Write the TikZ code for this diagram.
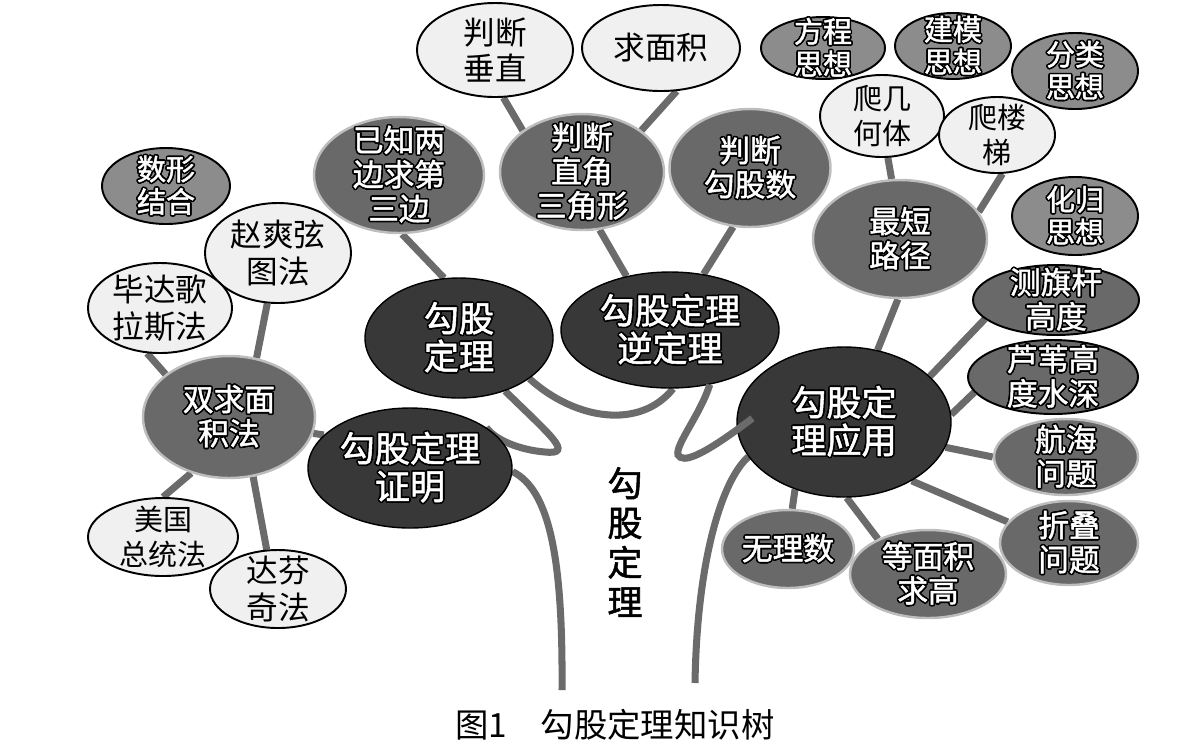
\documentclass[tikz,border=0pt]{standalone}
\usepackage{fontspec}
\setmainfont{Noto Sans CJK SC}
\newfontfamily\heavyfam[FakeBold=1.5]{Noto Sans CJK SC}
\usepackage{contour}
\contourlength{0.9pt}
\contournumber{16}
\usetikzlibrary{shapes.geometric,backgrounds}

\definecolor{leaffill}{gray}{0.94}
\definecolor{ideafill}{gray}{0.55}
\definecolor{subfill}{gray}{0.41}
\definecolor{rootfill}{gray}{0.22}
\definecolor{glow}{gray}{0.74}
\definecolor{branch}{gray}{0.42}

\newlength\unitpx
\setlength\unitpx{0.02cm}
\newcommand\wt[1]{\contour{black}{#1}}
\newcommand\leaffont{\fontsize{18pt}{21pt}\selectfont}
\newcommand\smallleaf{\fontsize{16.5pt}{20pt}\selectfont}
\newcommand\ideafont{\heavyfam\fontsize{16.5pt}{18.5pt}\selectfont}
\newcommand\subfont{\heavyfam\fontsize{17.5pt}{19.5pt}\selectfont}
\newcommand\rootfont{\heavyfam\fontsize{20pt}{21.5pt}\selectfont}
\newcommand\trunkfont{\heavyfam\fontsize{20pt}{22.5pt}\selectfont}
\newcommand\capfont{\fontsize{19pt}{21pt}\selectfont}

\tikzset{
  blob/.style={ellipse, inner sep=-12pt, align=center},
  wh/.style 2 args={minimum width=#1\unitpx, minimum height=#2\unitpx},
  leaf/.style={blob, fill=leaffill, draw=black, line width=1.1pt, font=\leaffont},
  idea/.style={blob, fill=ideafill, draw=black, line width=1.1pt, text=white, font=\ideafont},
  sub/.style={blob, fill=subfill, draw=glow, line width=1.4pt, text=white, font=\subfont},
  subd/.style={sub, draw=black, line width=1.1pt},
  root/.style={blob, fill=rootfill, draw=black, line width=0.8pt, text=white, font=\rootfont},
  link/.style={draw=branch, line width=4pt},
}

\begin{document}
\begin{tikzpicture}[x=1\unitpx, y=-1\unitpx]
    \useasboundingbox (0,0) rectangle (1189,745);

    % 主干
    \node[root, wh={188}{120}] (gt) at (459,338) {\wt{勾股}\\\wt{定理}};
    \node[root, wh={218}{116}] (ni) at (670,330) {\wt{勾股定理}\\\wt{逆定理}};
    \node[root, wh={204}{120}] (zm) at (410,468) {\wt{勾股定理}\\\wt{证明}};
    \node[root, wh={214}{150}] (yy) at (844,422) {\wt{勾股定}\\\wt{理应用}};
    \coordinate (lroot) at (562,690);
    \coordinate (rroot) at (695,683);

    % 分支
    \node[sub, wh={170}{116}] (yz) at (399,175) {\wt{已知两}\\\wt{边求第}\\\wt{三边}};
    \node[sub, wh={164}{116}] (zj) at (582,172) {\wt{判断}\\\wt{直角}\\\wt{三角形}};
    \node[sub, wh={161}{118}] (gs) at (750,168) {\wt{判断}\\\wt{勾股数}};
    \node[sub, wh={174}{118}] (zd) at (900,239) {\wt{最短}\\\wt{路径}};
    \node[sub, wh={172}{122}] (sq) at (229,417) {\wt{双求面}\\\wt{积法}};
    \node[subd, wh={166}{70}] (cq) at (1056,300) {\wt{测旗杆}\\\wt{高度}};
    \node[subd, wh={170}{74}] (lw) at (1053,377) {\wt{芦苇高}\\\wt{度水深}};
    \node[sub, wh={144}{76}] (hh) at (1066,457) {\wt{航海}\\\wt{问题}};
    \node[sub, wh={138}{84}] (zdie) at (1069,543) {\wt{折叠}\\\wt{问题}};
    \node[sub, wh={156}{88}] (dm) at (928,574) {\wt{等面积}\\\wt{求高}};
    \node[sub, wh={132}{78}] (wl) at (788,549) {\wt{无理数}};

    % 思想
    \node[idea, wh={128}{76}] (sx) at (166,186) {\wt{数形}\\\wt{结合}};
    \node[idea, wh={124}{62}] (fc) at (823,48) {\wt{方程}\\\wt{思想}};
    \node[idea, wh={116}{66}] (jm) at (953,46) {\wt{建模}\\\wt{思想}};
    \node[idea, wh={126}{76}] (fl) at (1075,71) {\wt{分类}\\\wt{思想}};
    \node[idea, wh={126}{78}] (hg) at (1075,216) {\wt{化归}\\\wt{思想}};

    % 叶子
    \node[leaf, wh={156}{94}] (cz) at (495,50) {判断\\垂直};
    \node[leaf, wh={158}{86}] (qm) at (661,48) {求面积};
    \node[leaf, wh={146}{100}] (zs) at (278,253) {赵爽弦\\图法};
    \node[leaf, wh={144}{90}] (bd) at (160,308) {毕达歌\\拉斯法};
    \node[leaf, wh={150}{78}, font=\smallleaf] (mg) at (163,537) {美国\\总统法};
    \node[leaf, wh={136}{78}] (df) at (278,589) {达芬\\奇法};
    \node[leaf, wh={124}{82}, font=\smallleaf] (jh) at (882,116) {爬几\\何体};
    \node[leaf, wh={116}{76}, font=\smallleaf] (lt) at (997,135) {爬楼\\梯};

    % 文字
    \node[font=\trunkfont, align=center] (tt) at (625,542) {勾\\股\\定\\理};
    \node[font=\capfont] (cap) at (615,725) {图1　勾股定理知识树};

    % 连线
    \begin{scope}[on background layer]
        \draw[link] (cz.-80) -- (zj.145);
        \draw[link] (qm.-70) -- (zj.35);
        \draw[link] (zj.-73) -- (ni.129);
        \draw[link] (gs.-106) -- (ni.59);
        \draw[link] (yz.-87) -- (gt.104);
        \draw[link] (jh.-82) -- (zd.98);
        \draw[link] (lt.-82) -- (zd.19);
        \draw[link] (zd.-92) -- (yy.65);
        \draw[link] (yy.28) -- (cq.195);
        \draw[link] (yy.4) -- (lw.-169);
        \draw[link] (yy.-14) -- (hh.180);
        \draw[link] (yy.-41) -- (zdie.161);
        \draw[link] (yy.-88) -- (dm.145);
        \draw[link] (yy.-126) -- (wl.84);
        \draw[link] (zs.-102) -- (sq.65);
        \draw[link] (bd.-106) -- (sq.146);
        \draw[link] (sq.-124) -- (mg.90);
        \draw[link] (sq.-68) -- (df.106);
        \draw[link] (sq.-11) -- (zm.159);
        \draw[link] (zm.-2) .. controls (550,490) and (563,560) .. (lroot);
        \draw[link] (yy.-160) .. controls (722,480) and (697,560) .. (rroot);
        \draw[link] (gt.-30) .. controls (575,420) and (640,430) .. (ni.-87);
        \draw[link] (gt.-49) .. controls (550,435) and (575,455) .. (545,452)
            .. controls (520,450) and (495,440) .. (zm.28);
    \end{scope}
    \draw[link] (ni.-54) .. controls (700,415) and (675,445) .. (678,455)
        .. controls (683,463) and (700,458) .. ([xshift=16\unitpx]yy.178);
\end{tikzpicture}
\end{document}
